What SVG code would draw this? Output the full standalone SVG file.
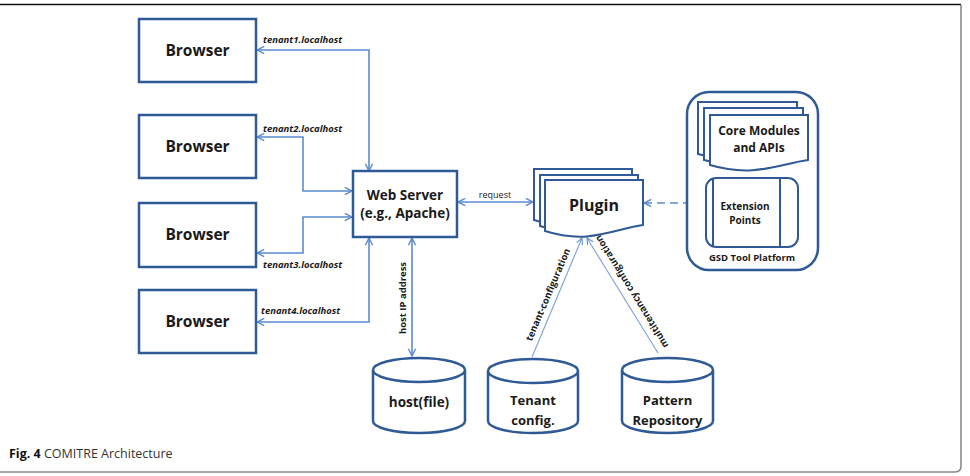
<svg xmlns="http://www.w3.org/2000/svg" width="970" height="476" viewBox="0 0 970 476">
<style>
.box{fill:#fff;stroke:#2f5a96;stroke-width:2.5}
.doc{fill:#fff;stroke:#2f5a96;stroke-width:2}
.cyl{fill:#fff;stroke:#2f5a96;stroke-width:2.5}
.t{font-family:"Open Sans","DejaVu Sans",sans-serif;font-weight:bold;fill:#1a1a1a;text-anchor:middle}
.lbl{font-family:"Open Sans","DejaVu Sans",sans-serif;font-weight:bold;font-style:italic;font-size:9.5px;fill:#1a1a1a}
.lb{font-family:"Open Sans","DejaVu Sans",sans-serif;font-weight:bold;font-size:9.5px;fill:#1a1a1a;text-anchor:middle}
.c{fill:none;stroke:#5b8bd0;stroke-width:1.6}
.ct{fill:none;stroke:#7ba0d8;stroke-width:1.1}
</style>
<defs>
<marker id="a" viewBox="0 0 10 10" refX="9" refY="5" markerWidth="9" markerHeight="9" markerUnits="userSpaceOnUse" orient="auto-start-reverse">
<path d="M1,1 L9,5 L1,9" fill="none" stroke="#5b8bd0" stroke-width="1.6"/>
</marker>
<marker id="b" viewBox="0 0 10 10" refX="9" refY="5" markerWidth="8" markerHeight="8" markerUnits="userSpaceOnUse" orient="auto-start-reverse">
<path d="M1,1 L9,5 L1,9" fill="none" stroke="#6a95d4" stroke-width="1.5"/>
</marker>
</defs>
<rect width="970" height="476" fill="#fff"/>
<g id="frame">
<path d="M0,4.5 H961" stroke="#111" stroke-width="1.6" fill="none"/>
<path d="M961,5 V466 Q961,472 955,472 H0" stroke="#8a8a8a" stroke-width="1.6" fill="none"/>
</g>
<g id="connectors">
<path class="c" d="M369,171 V50 H257" marker-start="url(#a)" marker-end="url(#a)"/>
<path class="c" d="M352,191 H303 V137 H257" marker-start="url(#a)" marker-end="url(#a)"/>
<path class="c" d="M352,217 H303 V253 H257" marker-start="url(#a)" marker-end="url(#a)"/>
<path class="c" d="M369,238 V322 H257" marker-start="url(#a)" marker-end="url(#a)"/>
<path class="c" d="M412,238 V356" marker-start="url(#a)" marker-end="url(#a)"/>
<path class="c" d="M458,202 H533" marker-start="url(#a)" marker-end="url(#a)"/>
<path class="c" d="M644,203 H705" stroke-dasharray="8,5" marker-start="url(#a)" marker-end="url(#a)"/>
<path class="ct" d="M532,357 L582,238" marker-end="url(#b)"/>
<path class="ct" d="M658,353 L587,238" marker-end="url(#b)"/>
<text class="lbl" x="263" y="43">tenant1.localhost</text>
<text class="lbl" x="263" y="132">tenant2.localhost</text>
<text class="lbl" x="263" y="268">tenant3.localhost</text>
<text class="lbl" x="261" y="314">tenant4.localhost</text>
<text x="495" y="198" style="font-family:'Open Sans','DejaVu Sans',sans-serif;font-size:9px;fill:#1a1a1a;text-anchor:middle">request</text>
<text class="lb" transform="translate(406,298) rotate(-90)">host IP address</text>
<text class="lb" transform="translate(551,296) rotate(-67)">tenant-configuration</text>
<text class="lb" transform="translate(634.5,290) rotate(-121.7)">multitenancy configuration</text>
</g>
<g id="browser1"><rect class="box" x="139" y="19" width="117" height="63"/><text class="t" x="197.5" y="56" font-size="15.5">Browser</text></g>
<g id="browser2"><rect class="box" x="139" y="115" width="117" height="63"/><text class="t" x="197.5" y="152" font-size="15.5">Browser</text></g>
<g id="browser3"><rect class="box" x="139" y="203" width="117" height="64"/><text class="t" x="197.5" y="240" font-size="15.5">Browser</text></g>
<g id="browser4"><rect class="box" x="139" y="290" width="117" height="63"/><text class="t" x="197.5" y="327" font-size="15.5">Browser</text></g>
<g id="webserver"><rect class="box" x="353" y="171" width="104" height="66"/>
<text class="t" x="405" y="200" font-size="13.5">Web Server</text>
<text class="t" x="405" y="218" font-size="13.5">(e.g., Apache)</text></g>
<g id="plugin">
<path class="doc" d="M534,169 H632 V214 C603,218 578,234 534,220 Z"/>
<path class="doc" d="M540,175 H638 V220 C609,224 584,240 540,226 Z"/>
<path class="doc" d="M545,180 H643 V225 C614,229 589,245 545,231 Z"/>
<text class="t" x="594" y="211" font-size="16">Plugin</text>
</g>
<g id="gsd">
<rect class="box" x="687" y="92" width="131" height="178" rx="22"/>
<path class="doc" d="M698,102 H797 V148 C768,152 743,166 698,154 Z"/>
<path class="doc" d="M704,108 H803 V154 C774,158 749,172 704,160 Z"/>
<path class="doc" d="M710,115 H808 V160 C779,164 754,178 710,165 Z"/>
<text class="t" x="759" y="135" font-size="12">Core Modules</text>
<text class="t" x="759" y="152" font-size="12">and APIs</text>
<g id="extension">
<rect class="doc" x="706" y="178" width="92" height="69" rx="10"/>
<path d="M713,178.5 V246.5 M780,178.5 V246.5" stroke="#2f5a96" stroke-width="2" fill="none"/>
<text class="t" x="745" y="210" font-size="10">Extension</text>
<text class="t" x="745" y="224" font-size="10">Points</text>
</g>
<text class="t" x="752" y="261" font-size="9.5">GSD Tool Platform</text>
</g>
<g id="hostfile">
<path class="cyl" d="M373,370 A46,12 0 0 1 465,370 V421 A46,12 0 0 1 373,421 Z M373,370 A46,12 0 0 0 465,370"/>
<text class="t" x="419" y="407" font-size="13.5">host(file)</text>
</g>
<g id="tenantconfig">
<path class="cyl" d="M488,371 A45,12 0 0 1 578,371 V421 A45,12 0 0 1 488,421 Z M488,371 A45,12 0 0 0 578,371"/>
<text class="t" x="533" y="405" font-size="13">Tenant</text>
<text class="t" x="533" y="425" font-size="13">config.</text>
</g>
<g id="pattern">
<path class="cyl" d="M622,370 A45.5,12 0 0 1 713,370 V421 A45.5,12 0 0 1 622,421 Z M622,370 A45.5,12 0 0 0 713,370"/>
<text class="t" x="667.5" y="405" font-size="13">Pattern</text>
<text class="t" x="667.5" y="425" font-size="13">Repository</text>
</g>
<g id="caption">
<text x="9" y="458" style="font-family:'Open Sans','DejaVu Sans',sans-serif;font-size:12.5px;fill:#333"><tspan font-weight="bold" fill="#111">Fig. 4</tspan> COMITRE Architecture</text>
</g>
</svg>
